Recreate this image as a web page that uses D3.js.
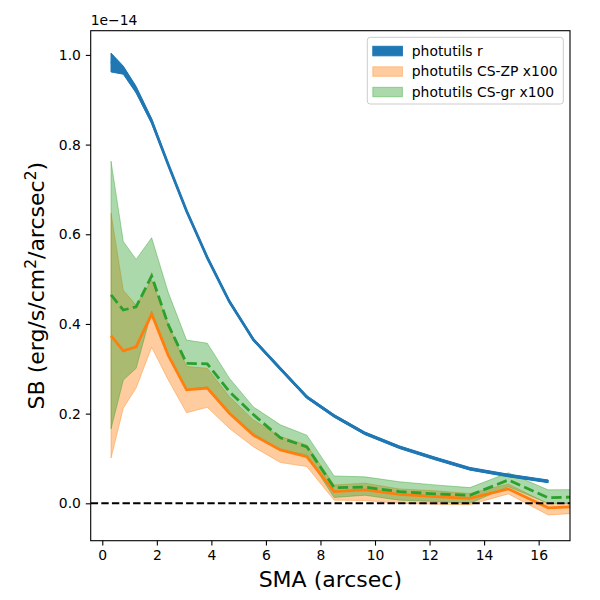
<!DOCTYPE html>
<html>
<head>
<meta charset="utf-8">
<script src="https://cdn.jsdelivr.net/npm/d3@7"></script>
<style>
body{margin:0;background:#fff;}
text{font-family:"DejaVu Sans",sans-serif;fill:#000;}
</style>
</head>
<body>
<div id="chart"></div>
<script>
// values in units of 1e-14 erg/s/cm2/arcsec2
const sma=[0.32,0.77,1.24,1.81,2.42,3.09,3.85,4.66,5.54,6.53,7.5,8.5,9.63,10.9,12.2,13.48,14.89,16.35];
const smaCS=[0.32,0.77,1.24,1.81,2.42,3.09,3.85,4.66,5.54,6.53,7.5,8.5,9.63,10.9,12.2,13.48,14.89,16.35,18.0];

const rMid=[0.985,0.966,0.922,0.852,0.755,0.652,0.548,0.450,0.365,0.300,0.237,0.195,0.156,0.125,0.100,0.077,0.062,0.049];
const rLo=[0.962,0.957,0.915,0.847,0.752,0.649,0.545,0.447,0.362,0.297,0.234,0.192,0.153,0.122,0.097,0.074,0.059,0.046];
const rHi=[1.004,0.975,0.930,0.858,0.758,0.655,0.551,0.453,0.368,0.303,0.240,0.198,0.159,0.128,0.103,0.080,0.065,0.052];

const zpMid=[0.374,0.340,0.349,0.422,0.330,0.253,0.257,0.201,0.152,0.119,0.104,0.026,0.030,0.020,0.015,0.011,0.032,-0.010,-0.006];
const zpLo=[0.101,0.212,0.257,0.348,0.275,0.202,0.214,0.167,0.126,0.091,0.082,0.007,0.006,0.000,-0.002,-0.003,0.021,-0.026,-0.020];
const zpHi=[0.647,0.475,0.442,0.498,0.400,0.305,0.301,0.238,0.186,0.149,0.130,0.041,0.045,0.032,0.028,0.022,0.043,-0.001,0.002];

const grMid=[0.465,0.431,0.438,0.507,0.398,0.312,0.311,0.249,0.198,0.146,0.126,0.035,0.036,0.026,0.021,0.018,0.052,0.0125,0.015];
const grLo=[0.166,0.275,0.301,0.428,0.330,0.254,0.259,0.202,0.156,0.119,0.108,0.013,0.018,0.007,0.004,0.000,0.037,0.000,0.000];
const grHi=[0.763,0.584,0.544,0.592,0.470,0.364,0.357,0.279,0.215,0.175,0.152,0.061,0.059,0.048,0.041,0.035,0.068,0.030,0.031];

const xTicks=[0,2,4,6,8,10,12,14,16];
const yTicks=[0,0.2,0.4,0.6,0.8,1.0];
const legendLabels=["photutils r","photutils CS-ZP x100","photutils CS-gr x100"];

const W=600,H=600;
const m={left:90.7,top:30.7,right:30,bottom:59.3};
const iw=W-m.left-m.right, ih=H-m.top-m.bottom;

const svg=d3.select("#chart").append("svg").attr("width",W).attr("height",H);

const x=d3.scaleLinear().domain([-0.425,17.15]).range([0,iw]);
const y=d3.scaleLinear().domain([-0.0834,1.054]).range([ih,0]);

svg.append("defs").append("clipPath").attr("id","clip")
  .append("rect").attr("width",iw).attr("height",ih);

const g=svg.append("g").attr("transform",`translate(${m.left},${m.top})`);
const plot=g.append("g").attr("clip-path","url(#clip)");

function band(xs,lo,hi){
  return d3.area().x((d,i)=>x(xs[i])).y0((d,i)=>y(lo[i])).y1((d,i)=>y(hi[i]))(xs);
}
function line(xs,ys){
  return d3.line().x((d,i)=>x(xs[i])).y((d,i)=>y(ys[i]))(xs);
}

// bands
plot.append("path").attr("d",band(sma,rLo,rHi))
  .attr("fill","#1f77b4").attr("stroke","#1f77b4").attr("stroke-width",1);
plot.append("path").attr("d",band(smaCS,zpLo,zpHi))
  .attr("fill","#ff7f0e").attr("fill-opacity",0.4)
  .attr("stroke","#ff7f0e").attr("stroke-opacity",0.4).attr("stroke-width",1);
plot.append("path").attr("d",band(smaCS,grLo,grHi))
  .attr("fill","#2ca02c").attr("fill-opacity",0.4)
  .attr("stroke","#2ca02c").attr("stroke-opacity",0.4).attr("stroke-width",1);

// lines
plot.append("path").attr("d",line(sma,rMid))
  .attr("fill","none").attr("stroke","#1f77b4").attr("stroke-width",2.8);
plot.append("path").attr("d",line(smaCS,zpMid))
  .attr("fill","none").attr("stroke","#ff7f0e").attr("stroke-width",2.8);
plot.append("path").attr("d",line(smaCS,grMid))
  .attr("fill","none").attr("stroke","#2ca02c").attr("stroke-width",2.8)
  .attr("stroke-dasharray","10.3,4.4");

// zero line
plot.append("line").attr("x1",0).attr("x2",iw).attr("y1",y(0)).attr("y2",y(0))
  .attr("stroke","#000").attr("stroke-width",2).attr("stroke-dasharray","7.4,3.2");

// axes
const xAxis=g.append("g").attr("transform",`translate(0,${ih})`)
  .call(d3.axisBottom(x).tickValues(xTicks).tickFormat(d3.format("d")).tickSizeOuter(0).tickSize(4.9).tickPadding(4.5));
const yAxis=g.append("g")
  .call(d3.axisLeft(y).tickValues(yTicks).tickFormat(d3.format(".1f")).tickSizeOuter(0).tickSize(4.9).tickPadding(4.9));
[xAxis,yAxis].forEach(a=>{
  a.select(".domain").remove();
  a.selectAll(".tick line").attr("stroke","#000").attr("stroke-width",1.1);
  a.selectAll(".tick text").attr("font-size","13.9px").attr("font-family","DejaVu Sans").attr("fill","#000");
});

g.append("rect").attr("width",iw).attr("height",ih)
  .attr("fill","none").attr("stroke","#000").attr("stroke-width",1.1);

// offset text
g.append("text").attr("x",0).attr("y",-6).attr("font-size","13.9px").text("1e\u221214");

// axis labels
svg.append("text").attr("x",m.left+iw/2).attr("y",587).attr("text-anchor","middle")
  .attr("font-size","22px").text("SMA (arcsec)");
const yl=svg.append("text").attr("transform",`translate(44,${m.top+ih/2}) rotate(-90)`)
  .attr("text-anchor","middle").attr("font-size","22px");
yl.append("tspan").text("SB (erg/s/cm");
yl.append("tspan").attr("font-size","15.4px").attr("dy","-8").text("2");
yl.append("tspan").attr("dy","8").text("/arcsec");
yl.append("tspan").attr("font-size","15.4px").attr("dy","-8").text("2");
yl.append("tspan").attr("dy","8").text(")");

// legend
const lg=svg.append("g").attr("transform","translate(367.3,37.3)");
lg.append("rect").attr("width",196).attr("height",66.7).attr("rx",3)
  .attr("fill","#fff").attr("fill-opacity",0.8).attr("stroke","#cccccc").attr("stroke-width",1);
const legStyles=[
  {fill:"#1f77b4",op:1},
  {fill:"#ff7f0e",op:0.4},
  {fill:"#2ca02c",op:0.4}
];
legendLabels.forEach((lab,i)=>{
  const row=lg.append("g").attr("transform",`translate(0,${9+i*20.5})`);
  row.append("rect").attr("x",5.5).attr("y",0).attr("width",29.6).attr("height",9.5)
    .attr("fill",legStyles[i].fill).attr("fill-opacity",legStyles[i].op)
    .attr("stroke",legStyles[i].fill).attr("stroke-opacity",legStyles[i].op);
  row.append("text").attr("x",44.5).attr("y",9.6).attr("font-size","13.9px").text(lab);
});
</script>
</body>
</html>
